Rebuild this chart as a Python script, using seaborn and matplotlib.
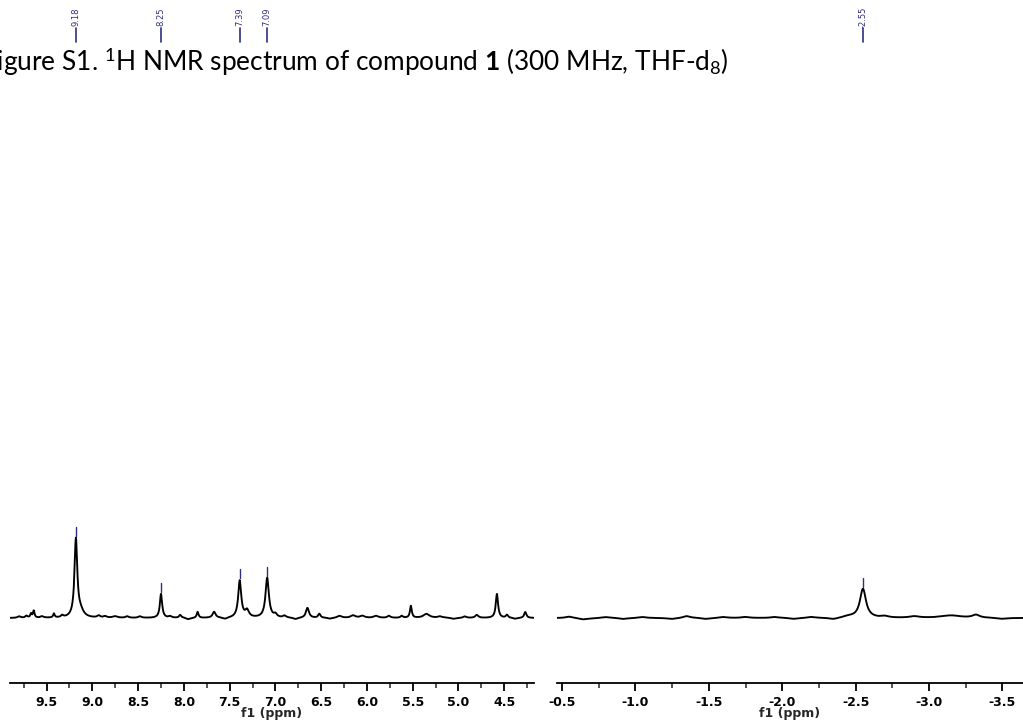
import numpy as np
import pandas as pd
import matplotlib
matplotlib.use("Agg")
import matplotlib.pyplot as plt
from matplotlib.ticker import MultipleLocator, FormatStrFormatter
import seaborn as sns

# ---- peak lists (chemical shift in ppm, relative intensity, half-width in ppm) ----
left_shift = [9.80, 9.72, 9.67, 9.64, 9.55, 9.42, 9.33, 9.18, 9.13, 8.93, 8.86, 8.75,
              8.62, 8.48, 8.25, 8.15, 8.04, 7.95, 7.85, 7.67, 7.55, 7.39, 7.31, 7.09,
              7.00, 6.90, 6.78, 6.65, 6.52, 6.40, 6.30, 6.15, 6.05, 5.90, 5.76, 5.62,
              5.52, 5.35, 5.20, 5.05, 4.93, 4.80, 4.58, 4.47, 4.38, 4.27]
left_height = [1.5, 2, 4, 7, 1.5, 4, 2, 78, 6, 2, 1.5, 1.5,
               1.5, 1.5, 24, 1.5, 3, -1.5, 6, 6, -1.5, 37, 7, 40,
               3, 2, -1.5, 10, 4, -1, 2, 2.5, 2, 2, 2, 2,
               12, 4, 1.5, -1, 1.5, 3, 24, 3, -1, 6]
left_hwhm = [0.02, 0.015, 0.01, 0.01, 0.02, 0.01, 0.015, 0.018, 0.04, 0.02, 0.02, 0.03,
             0.02, 0.02, 0.015, 0.02, 0.015, 0.03, 0.012, 0.02, 0.03, 0.02, 0.025, 0.022,
             0.02, 0.02, 0.03, 0.02, 0.015, 0.03, 0.03, 0.03, 0.03, 0.03, 0.02, 0.015,
             0.012, 0.04, 0.03, 0.03, 0.02, 0.02, 0.015, 0.015, 0.03, 0.015]

right_shift = [-0.55, -0.65, -0.80, -0.92, -1.05, -1.25, -1.35, -1.48, -1.60, -1.75,
               -1.95, -2.08, -2.20, -2.35, -2.45, -2.55, -2.70, -2.90, -3.15, -3.32, -3.50]
right_height = [1.5, -1.5, 1, -1, 1, -1, 2, -1, 1, 1,
                1, -1, 1, -1.5, 1.5, 29, 1.5, 1.5, 2.5, 3, -1]
right_hwhm = [0.03, 0.04, 0.03, 0.03, 0.03, 0.04, 0.03, 0.03, 0.03, 0.03,
              0.03, 0.03, 0.03, 0.04, 0.04, 0.025, 0.03, 0.04, 0.08, 0.03, 0.04]

# picked peaks shown with labels above the spectrum
picked_left = [9.18, 8.25, 7.39, 7.09]
picked_right = [-2.55]

left_range = (9.90, 4.175)
right_range = (-0.466, -3.64)

TITLE = "Figure S1. $^{1}$H NMR spectrum of compound $\\mathbf{1}$ (300 MHz, THF-d$_{8}$)"
XLABEL = "f1 (ppm)"
PEAK_COLOR = "#2e2e80"


def lorentz_sum(ppm, shifts, heights, widths):
    ppm = np.asarray(ppm, dtype=float)
    y = np.zeros_like(ppm)
    for c, h, w in zip(shifts, heights, widths):
        y += h * w ** 2 / ((ppm - c) ** 2 + w ** 2)
    return y


sns.set_style("ticks")
plt.rcParams.update({
    "font.family": ["DejaVu Sans"],
    "axes.unicode_minus": False,
    "mathtext.fontset": "custom",
    "mathtext.rm": "Lato",
    "mathtext.bf": "Lato:bold",
    "mathtext.it": "Lato:italic",
})

W, H = 1023, 722
fig = plt.figure(figsize=(W / 100, H / 100), dpi=100)


def px_axes(x0, x1, y_top, y_bot):
    return fig.add_axes([x0 / W, 1 - y_bot / H, (x1 - x0) / W, (y_bot - y_top) / H])


axL = px_axes(10, 534, 0, 683)
axR = px_axes(557, 1023, 0, 683)

panels = [
    (axL, left_range, left_shift, left_height, left_hwhm, picked_left),
    (axR, right_range, right_shift, right_height, right_hwhm, picked_right),
]

for ax, (hi, lo), shifts, heights, widths, picked in panels:
    ppm = np.linspace(lo, hi, 3000)
    df = pd.DataFrame({"ppm": ppm, "intensity": lorentz_sum(ppm, shifts, heights, widths)})
    sns.lineplot(data=df, x="ppm", y="intensity", ax=ax, color="black", lw=1.35)
    ax.set_xlim(hi, lo)
    ax.set_ylim(-65, 618)

    for s in ["left", "top", "right"]:
        ax.spines[s].set_visible(False)
    ax.spines["bottom"].set_linewidth(1.3)
    ax.spines["bottom"].set_color("black")
    ax.set_yticks([])
    ax.set_ylabel("")
    ax.xaxis.set_major_locator(MultipleLocator(0.5))
    ax.xaxis.set_minor_locator(MultipleLocator(0.25))
    ax.xaxis.set_major_formatter(FormatStrFormatter("%.1f"))
    ax.tick_params(axis="x", which="major", direction="out", length=6, width=1.3,
                   pad=3, labelsize=9, colors="black")
    ax.tick_params(axis="x", which="minor", direction="out", length=3.5, width=1.1)
    for t in ax.get_xticklabels():
        t.set_fontweight("bold")
    ax.set_xlabel(XLABEL, fontsize=9, fontweight="bold", labelpad=-1)

    # peak-picking marks: short tick at each apex plus label at the top
    apex = lorentz_sum(picked, shifts, heights, widths)
    for v, a in zip(picked, apex):
        ax.plot([v, v], [a + 2, a + 11], color=PEAK_COLOR, lw=1.0, clip_on=False)
        ax.plot([v, v], [576, 590], color=PEAK_COLOR, lw=1.2, clip_on=False)
        ax.text(v, 601, f"{v:.2f}", rotation=90, ha="center", va="center",
                fontsize=6, color=PEAK_COLOR, clip_on=False)

# caption across the top, its leading letter running off the left edge
title = fig.text(-18 / W, 1 - 71 / H, TITLE, fontsize=18, family="Lato",
                 ha="left", va="baseline", color="black")
fig.canvas.draw()
bb = title.get_window_extent()
title.set_fontsize(18 * 749 / bb.width)

fig.savefig("out.png", dpi=100)
